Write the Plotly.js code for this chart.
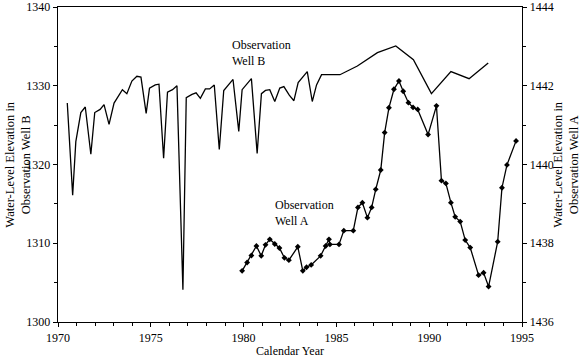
<!DOCTYPE html>
<html>
<head>
<meta charset="utf-8">
<script src="https://cdn.plot.ly/plotly-3.0.1.min.js"></script>
<style>html,body{margin:0;padding:0;background:#fff;}#chart{width:584px;height:362px;}</style>
</head>
<body>
<div id="chart"></div>
<script>
// Observation Well B (left axis)
const wellBYears = [1970.50,1970.79,1970.96,1971.23,1971.47,1971.77,1971.98,1972.27,1972.48,1972.75,1973.02,1973.47,1973.71,1973.98,1974.25,1974.47,1974.75,1974.93,1975.24,1975.44,1975.69,1975.90,1976.17,1976.41,1976.73,1976.91,1977.22,1977.44,1977.67,1977.94,1978.17,1978.42,1978.69,1978.93,1979.43,1979.74,1979.92,1980.42,1980.73,1980.96,1981.18,1981.41,1981.68,1981.95,1982.17,1982.46,1982.71,1982.94,1983.43,1983.70,1983.93,1984.20,1985.19,1986.13,1987.21,1988.20,1989.15,1990.12,1991.17,1992.15,1993.18];
const wellBLevels = [1327.8,1316.1,1322.9,1326.6,1327.3,1321.3,1326.6,1327.0,1327.6,1325.1,1327.8,1329.5,1329.0,1330.6,1331.2,1331.1,1326.5,1329.7,1330.1,1330.2,1320.8,1329.2,1329.5,1330.0,1304.1,1328.5,1328.9,1329.1,1328.4,1329.6,1329.6,1330.1,1321.9,1329.4,1330.8,1324.2,1329.5,1330.9,1321.4,1329.0,1329.4,1329.5,1328.0,1329.7,1329.9,1328.8,1328.1,1330.4,1331.8,1328.0,1330.1,1331.4,1331.4,1332.5,1334.2,1335.05,1333.3,1329.0,1331.8,1330.9,1332.9];

// Observation Well A (right axis)
const wellAYears = [1979.92,1980.19,1980.42,1980.69,1980.95,1981.18,1981.41,1981.68,1981.93,1982.20,1982.44,1982.92,1983.19,1983.39,1983.64,1984.15,1984.42,1984.60,1984.65,1985.14,1985.40,1985.91,1986.16,1986.40,1986.67,1986.90,1987.12,1987.39,1987.60,1987.83,1988.10,1988.37,1988.60,1988.88,1989.13,1989.38,1989.94,1990.39,1990.66,1990.90,1991.17,1991.40,1991.67,1991.94,1992.21,1992.66,1992.93,1993.20,1993.69,1993.92,1994.19,1994.68];
const wellALevels = [1437.30,1437.51,1437.69,1437.93,1437.68,1437.96,1438.10,1437.98,1437.88,1437.63,1437.57,1437.91,1437.30,1437.39,1437.45,1437.68,1437.93,1438.10,1437.97,1437.97,1438.32,1438.32,1438.91,1439.03,1438.65,1438.91,1439.37,1439.86,1440.81,1441.44,1441.91,1442.12,1441.86,1441.57,1441.45,1441.40,1440.76,1441.49,1439.59,1439.52,1439.03,1438.67,1438.55,1438.08,1437.89,1437.19,1437.25,1436.90,1438.04,1439.41,1439.99,1440.60];

const xTicks = [1970,1975,1980,1985,1990,1995];
const leftTicks = [1300,1310,1320,1330,1340];
const rightTicks = [1436,1438,1440,1442,1444];

const serif = "Liberation Serif, Times New Roman, serif";

const traces = [
  {x: wellBYears, y: wellBLevels, type: 'scatter', mode: 'lines', name: 'Observation Well B',
   line: {color: '#000', width: 1.3}, yaxis: 'y'},
  {x: wellAYears, y: wellALevels, type: 'scatter', mode: 'lines+markers', name: 'Observation Well A',
   line: {color: '#000', width: 1.3}, marker: {color: '#000', size: 4.5, symbol: 'diamond'}, yaxis: 'y2'}
];

const axisCommon = {
  showline: true, linecolor: '#000', linewidth: 1.3, showgrid: false, zeroline: false,
  ticks: 'outside', ticklen: 4, tickwidth: 1, tickcolor: '#000',
  tickfont: {family: serif, size: 12, color: '#000'}
};

const titleFont = {family: serif, size: 12.5, color: '#000'};

const layout = {
  width: 584, height: 362,
  margin: {l: 58, r: 62, t: 7, b: 40},
  paper_bgcolor: '#fff', plot_bgcolor: '#fff',
  showlegend: false,
  font: {family: serif, size: 12, color: '#000'},
  xaxis: Object.assign({}, axisCommon, {
    range: [1970, 1995], tickvals: xTicks, ticktext: xTicks.map(String), mirror: true,
    minor: {dtick: 1, tick0: 1970, ticks: 'outside', ticklen: 3, tickcolor: '#000'},
    title: {text: 'Calendar Year', font: {family: serif, size: 12, color: '#000'}, standoff: 3}
  }),
  yaxis: Object.assign({}, axisCommon, {
    range: [1300, 1340], tickvals: leftTicks, ticktext: leftTicks.map(String),
    minor: {dtick: 5, tick0: 1300, ticks: 'outside', ticklen: 3, tickcolor: '#000'}
  }),
  yaxis2: Object.assign({}, axisCommon, {
    range: [1436, 1444], tickvals: rightTicks, ticktext: rightTicks.map(String),
    overlaying: 'y', side: 'right',
    minor: {dtick: 1, tick0: 1436, ticks: 'outside', ticklen: 3, tickcolor: '#000'}
  }),
  annotations: [
    {text: 'Water-Level Elevation in<br>Observation Well B', x: -0.088, y: 0.5, xref: 'paper', yref: 'paper',
     xanchor: 'center', yanchor: 'middle', textangle: -90, showarrow: false, font: titleFont},
    {text: 'Water-Level Elevation in<br>Observation Well A', x: 1.093, y: 0.5, xref: 'paper', yref: 'paper',
     xanchor: 'center', yanchor: 'middle', textangle: -90, showarrow: false, font: titleFont},
    {text: 'Observation<br>Well B', x: 1979.29, y: 1334.2, xref: 'x', yref: 'y', xanchor: 'left', yanchor: 'middle',
     align: 'left', showarrow: false, font: {family: serif, size: 12, color: '#000'}},
    {text: 'Observation<br>Well A', x: 1981.61, y: 1313.8, xref: 'x', yref: 'y', xanchor: 'left', yanchor: 'middle',
     align: 'left', showarrow: false, font: {family: serif, size: 12, color: '#000'}}
  ]
};

Plotly.newPlot('chart', traces, layout, {staticPlot: true, displayModeBar: false});
</script>
</body>
</html>
